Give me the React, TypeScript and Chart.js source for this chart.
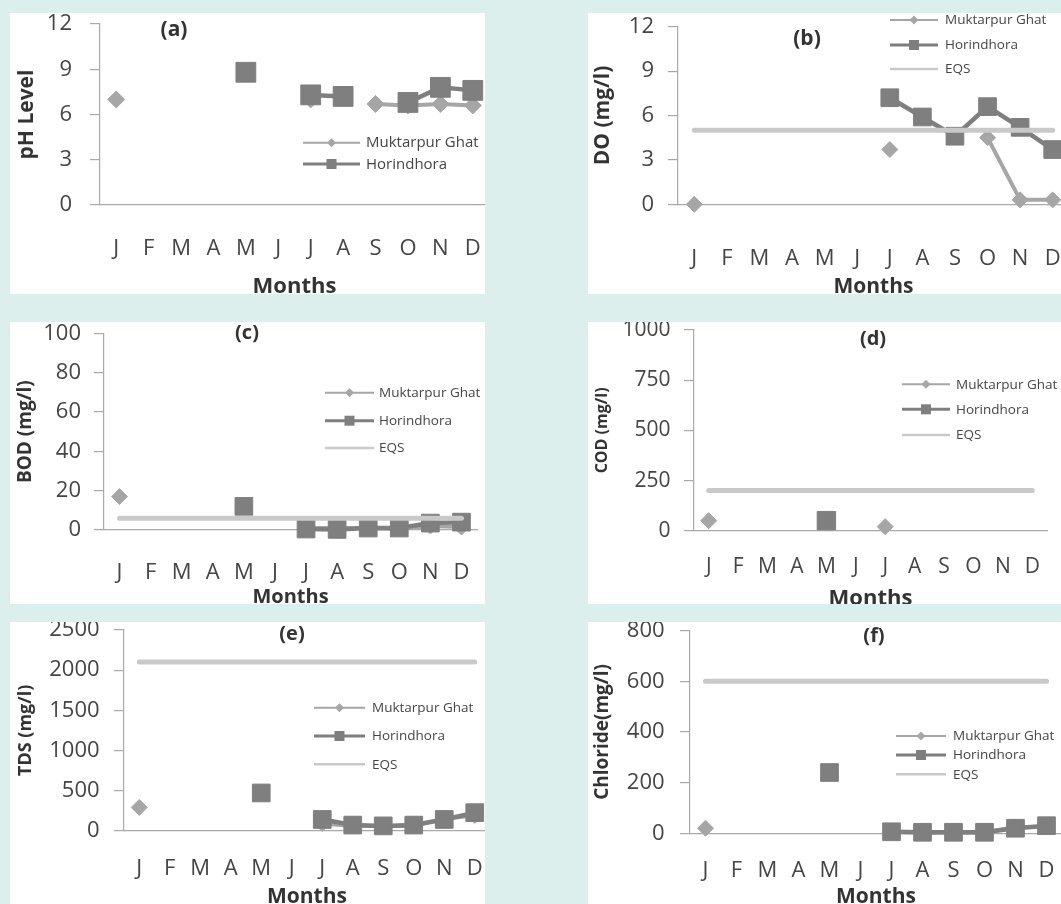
import React, { useEffect, useRef } from 'react';
import { Chart, registerables } from 'chart.js';

Chart.register(...registerables);

// ---- data -------------------------------------------------------------
const MONTHS = ['J', 'F', 'M', 'A', 'M', 'J', 'J', 'A', 'S', 'O', 'N', 'D'];
const SITE_MUKTARPUR = 'Muktarpur Ghat';
const SITE_HORINDHORA = 'Horindhora';
const STANDARD = 'EQS';

// (a) pH
const phMuktarpur = [7.0, null, null, null, null, null, 7.0, null, 6.7, 6.6, 6.7, 6.6];
const phHorindhora = [null, null, null, null, 8.8, null, 7.3, 7.2, null, 6.8, 7.8, 7.6];

// (b) dissolved oxygen, mg/l
const doMuktarpur = [0, null, null, null, null, null, 3.7, null, null, 4.5, 0.3, 0.3];
const doHorindhora = [null, null, null, null, null, null, 7.2, 5.9, 4.6, 6.6, 5.2, 3.7];
const doEqs = [5, 5, 5, 5, 5, 5, 5, 5, 5, 5, 5, 5];

// (c) BOD, mg/l
const bodMuktarpur = [17, null, null, null, null, null, 1, 1, 1, 0.5, 2, 1.5];
const bodHorindhora = [null, null, null, null, 12, null, 0.5, 0.3, 1, 1, 3.5, 4];
const bodEqs = [6, 6, 6, 6, 6, 6, 6, 6, 6, 6, 6, 6];

// (d) COD, mg/l
const codMuktarpur = [50, null, null, null, null, null, 20, null, null, null, null, null];
const codHorindhora = [null, null, null, null, 50, null, null, null, null, null, null, null];
const codEqs = [200, 200, 200, 200, 200, 200, 200, 200, 200, 200, 200, 200];

// (e) TDS, mg/l
const tdsMuktarpur = [290, null, null, null, null, null, 90, 60, 60, 60, 150, 190];
const tdsHorindhora = [null, null, null, null, 470, null, 140, 70, 60, 70, 140, 225];
const tdsEqs = [2100, 2100, 2100, 2100, 2100, 2100, 2100, 2100, 2100, 2100, 2100, 2100];

// (f) chloride, mg/l
const clMuktarpur = [20, null, null, null, null, null, 5, 3, 3, 3, 25, 25];
const clHorindhora = [null, null, null, null, 240, null, 6, 4, 4, 4, 20, 30];
const clEqs = [600, 600, 600, 600, 600, 600, 600, 600, 600, 600, 600, 600];

// ---- styling ----------------------------------------------------------
const FONT = '"Open Sans", "Liberation Sans", sans-serif';
const PAGE_BG = '#dcefec';
const MUK_COLOR = '#a6a6a6';
const HOR_COLOR = '#7f7f7f';
const EQS_COLOR = '#c9c9c9';
const AXIS_COLOR = '#a9a9a9';
const TICK_COLOR = '#454545';
const TITLE_COLOR = '#333333';

Chart.defaults.font.family = FONT;

// Panel geometry in page pixels.
const PANELS = [
  {
    tag: '(a)', yTitle: 'pH Level', yMax: 12, yStep: 3,
    muk: phMuktarpur, hor: phHorindhora, eqs: null,
    box: { x: 10, y: 13, w: 475, h: 281 },
    axisX: 100, yTop: 24, yZero: 205, axisRight: 489,
    tickY: 249, monthsY: 287, monthsSize: 22,
    yTitleX: 27, yTitleSize: 21, tickPad: 18, tickSize: 22,
    tagX: 174, tagY: 30, tagSize: 21,
    legend: { x1: 303, x2: 360, textX: 366, rows: [142.7, 164], size: 15 },
    squareR: 14, diamondR: 8.5,
  },
  {
    tag: '(b)', yTitle: 'DO (mg/l)', yMax: 12, yStep: 3,
    muk: doMuktarpur, hor: doHorindhora, eqs: doEqs,
    box: { x: 588, y: 13, w: 473, h: 281 },
    axisX: 678, yTop: 26.7, yZero: 204.3, axisRight: 1069,
    tickY: 259, monthsY: 287, monthsSize: 21,
    yTitleX: 602.8, yTitleSize: 21, tickPad: 14, tickSize: 22,
    tagX: 807, tagY: 39, tagSize: 21,
    legend: { x1: 890, x2: 938, textX: 945, rows: [20, 45, 69], size: 13.5 },
    squareR: 12.5, diamondR: 8,
  },
  {
    tag: '(c)', yTitle: 'BOD (mg/l)', yMax: 100, yStep: 20,
    muk: bodMuktarpur, hor: bodHorindhora, eqs: bodEqs,
    box: { x: 10, y: 322, w: 475, h: 282 },
    axisX: 104, yTop: 333.3, yZero: 530, axisRight: 477,
    tickY: 572.5, monthsY: 597, monthsSize: 20,
    yTitleX: 25.4, yTitleSize: 19, tickPad: 13, tickSize: 22,
    tagX: 247, tagY: 333.3, tagSize: 20,
    legend: { x1: 325, x2: 374, textX: 379, rows: [392.7, 420.7, 448], size: 13.5 },
    squareR: 12.5, diamondR: 8,
  },
  {
    tag: '(d)', yTitle: 'COD (mg/l)', yMax: 1000, yStep: 250,
    muk: codMuktarpur, hor: codHorindhora, eqs: codEqs,
    box: { x: 588, y: 322, w: 473, h: 282 },
    axisX: 694, yTop: 330, yZero: 530.7, axisRight: 1047,
    tickY: 567.5, monthsY: 598.5, monthsSize: 22,
    yTitleX: 602.8, yTitleSize: 16, tickPad: 13.5, tickSize: 21,
    tagX: 873, tagY: 339.3, tagSize: 20,
    legend: { x1: 902, x2: 950, textX: 956, rows: [384.3, 409.3, 435], size: 13.5 },
    squareR: 13, diamondR: 8,
  },
  {
    tag: '(e)', yTitle: 'TDS (mg/l)', yMax: 2500, yStep: 500,
    muk: tdsMuktarpur, hor: tdsHorindhora, eqs: tdsEqs,
    box: { x: 10, y: 622, w: 475, h: 282 },
    axisX: 124, yTop: 630, yZero: 830.7, axisRight: 490,
    tickY: 868.5, monthsY: 897, monthsSize: 21,
    yTitleX: 25.4, yTitleSize: 18, tickPad: 14.4, tickSize: 22,
    tagX: 292, tagY: 634, tagSize: 20,
    legend: { x1: 314, x2: 365, textX: 372, rows: [707.7, 736, 764.3], size: 13.5 },
    squareR: 12.5, diamondR: 8,
  },
  {
    tag: '(f)', yTitle: 'Chloride(mg/l)', yMax: 800, yStep: 200,
    muk: clMuktarpur, hor: clHorindhora, eqs: clEqs,
    box: { x: 588, y: 622, w: 473, h: 282 },
    axisX: 690, yTop: 630.7, yZero: 833.3, axisRight: 1062,
    tickY: 870.5, monthsY: 897, monthsSize: 21,
    yTitleX: 602.8, yTitleSize: 19, tickPad: 15.4, tickSize: 22,
    tagX: 874, tagY: 636, tagSize: 20,
    legend: { x1: 896, x2: 946, textX: 953, rows: [736, 755, 774.3], size: 13.5 },
    squareR: 12.5, diamondR: 8,
  },
];

// Panel letter and the in-plot legend.
const panelDecor = {
  id: 'panelDecor',
  afterDatasetsDraw(chart: any, _args: any, o: any) {
    const { ctx } = chart;
    ctx.save();
    ctx.fillStyle = TITLE_COLOR;
    ctx.font = `bold ${o.tagSize}px ${FONT}`;
    ctx.textAlign = 'center';
    ctx.textBaseline = 'middle';
    ctx.fillText(o.tag, o.tagX, o.tagY);

    ctx.font = `${o.size}px ${FONT}`;
    ctx.textAlign = 'left';
    const lineWidths = [2, 3, 2.5];
    chart.data.datasets.forEach((ds: any, i: number) => {
      const y = o.rows[i];
      if (y === undefined) return;
      ctx.strokeStyle = ds.borderColor;
      ctx.lineWidth = lineWidths[i];
      ctx.beginPath();
      ctx.moveTo(o.x1, y);
      ctx.lineTo(o.x2, y);
      ctx.stroke();
      const cx = (o.x1 + o.x2) / 2;
      ctx.fillStyle = ds.borderColor;
      if (ds.pointStyle === 'rectRot') {
        const r = 4.5;
        ctx.beginPath();
        ctx.moveTo(cx, y - r);
        ctx.lineTo(cx + r, y);
        ctx.lineTo(cx, y + r);
        ctx.lineTo(cx - r, y);
        ctx.closePath();
        ctx.fill();
      } else if (ds.pointStyle === 'rect' && ds.pointRadius > 0) {
        ctx.fillRect(cx - 5, y - 5, 10, 10);
      }
      ctx.fillStyle = TICK_COLOR;
      ctx.fillText(ds.label, o.textX, y + 0.5);
    });
    ctx.restore();
  },
};

function Panel({ p }: { p: any }) {
  const ref = useRef<HTMLCanvasElement>(null);
  const plotW = p.axisRight - p.box.x;
  const cw = Math.ceil(Math.max(plotW, p.box.w));
  const ch = p.box.h + 14;

  useEffect(() => {
    if (!ref.current) return;
    const ox = p.box.x;
    const oy = p.box.y;
    const yTopRel = p.yTop - oy;
    const yZeroRel = p.yZero - oy;
    const axisRel = p.axisX - ox;

    const datasets: any[] = [
      {
        label: SITE_MUKTARPUR,
        data: p.muk,
        borderColor: MUK_COLOR,
        backgroundColor: MUK_COLOR,
        borderWidth: 4,
        pointStyle: 'rectRot',
        pointRadius: p.diamondR,
        pointBorderWidth: 1,
        pointBackgroundColor: MUK_COLOR,
        pointBorderColor: MUK_COLOR,
        tension: 0,
        clip: false,
        order: 3,
      },
      {
        label: SITE_HORINDHORA,
        data: p.hor,
        borderColor: HOR_COLOR,
        backgroundColor: HOR_COLOR,
        borderWidth: 4.5,
        pointStyle: 'rect',
        pointRadius: p.squareR,
        pointBorderWidth: 1,
        pointBackgroundColor: HOR_COLOR,
        pointBorderColor: HOR_COLOR,
        tension: 0,
        clip: false,
        order: 2,
      },
    ];
    if (p.eqs) {
      datasets.push({
        label: STANDARD,
        data: p.eqs,
        borderColor: EQS_COLOR,
        backgroundColor: EQS_COLOR,
        borderWidth: 5,
        borderCapStyle: 'round',
        pointRadius: 0,
        pointStyle: 'line',
        tension: 0,
        clip: false,
        order: 1,
      });
    }

    const tickLine = p.tickSize * 1.2;
    const monthsLine = p.monthsSize * 1.2;
    const yTitleLine = p.yTitleSize * 1.2;

    const chart = new Chart(ref.current, {
      type: 'line',
      data: { labels: MONTHS, datasets },
      options: {
        responsive: false,
        animation: false,
        events: [],
        layout: {
          autoPadding: false,
          padding: { top: yTopRel, left: 0, right: cw - plotW, bottom: 0 },
        },
        plugins: {
          legend: { display: false },
          tooltip: { enabled: false },
          title: { display: false },
          panelDecor: {
            tag: p.tag,
            tagX: p.tagX - ox,
            tagY: p.tagY - oy,
            tagSize: p.tagSize,
            x1: p.legend.x1 - ox,
            x2: p.legend.x2 - ox,
            textX: p.legend.textX - ox,
            rows: p.legend.rows.map((r: number) => r - oy),
            size: p.legend.size,
          },
        } as any,
        scales: {
          x: {
            type: 'category',
            offset: true,
            grid: { display: false, drawTicks: false },
            border: { display: true, color: AXIS_COLOR, width: 1.2 },
            ticks: {
              color: TICK_COLOR,
              font: { size: p.tickSize },
              padding: p.tickY - p.yZero - tickLine / 2,
              maxRotation: 0,
              autoSkip: false,
            },
            title: {
              display: true,
              text: 'Months',
              color: TITLE_COLOR,
              font: { size: p.monthsSize, weight: 'bold' },
              padding: { top: 0, bottom: ch - (p.monthsY - oy) - monthsLine / 2 },
            },
            afterFit(scale: any) {
              scale.height = ch - yZeroRel;
              scale.paddingLeft = 0;
              scale.paddingRight = 0;
            },
          },
          y: {
            type: 'linear',
            min: 0,
            max: p.yMax,
            ticks: {
              stepSize: p.yStep,
              color: TICK_COLOR,
              font: { size: p.tickSize },
              padding: p.tickPad,
              callback: (v: any) => String(v),
            },
            grid: {
              display: true,
              drawOnChartArea: false,
              drawTicks: true,
              tickLength: 10,
              color: AXIS_COLOR,
              lineWidth: 1.2,
            },
            border: { display: true, color: AXIS_COLOR, width: 1.2 },
            title: {
              display: true,
              text: p.yTitle,
              color: TITLE_COLOR,
              font: { size: p.yTitleSize, weight: 'bold' },
              padding: { top: p.yTitleX - ox - yTitleLine / 2, bottom: 0 },
            },
            afterFit(scale: any) {
              scale.width = axisRel;
              scale.paddingTop = 0;
              scale.paddingBottom = 0;
            },
          },
        },
      } as any,
      plugins: [panelDecor as any],
    });
    return () => chart.destroy();
  }, []);

  return (
    <div
      style={{
        position: 'absolute',
        left: p.box.x,
        top: p.box.y,
        width: p.box.w,
        height: p.box.h,
        background: '#ffffff',
        overflow: 'hidden',
      }}
    >
      <canvas ref={ref} width={cw} height={ch} style={{ display: 'block', width: cw, height: ch }} />
    </div>
  );
}

export default function App() {
  return (
    <div
      style={{
        position: 'absolute',
        left: 0,
        top: 0,
        width: 1061,
        height: 904,
        background: PAGE_BG,
        overflow: 'hidden',
      }}
    >
      {PANELS.map((p) => (
        <Panel key={p.tag} p={p} />
      ))}
    </div>
  );
}
